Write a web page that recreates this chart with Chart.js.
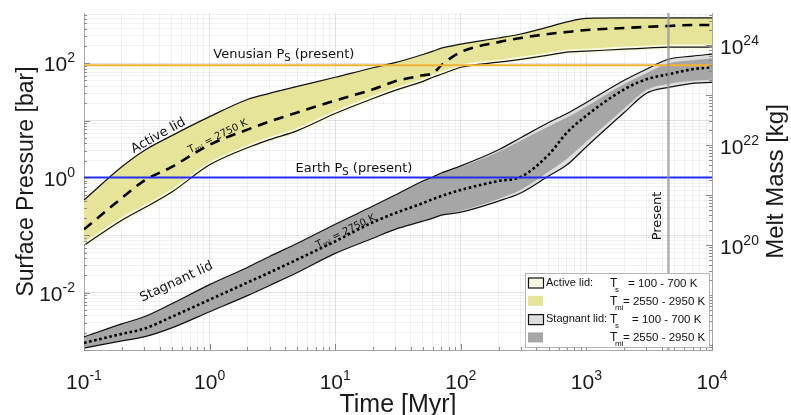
<!DOCTYPE html>
<html>
<head>
<meta charset="utf-8">
<script src="https://cdn.jsdelivr.net/npm/chart.js@4/dist/chart.umd.min.js"></script>
<style>
  html, body { margin: 0; padding: 0; background: #fff; }
</style>
</head>
<body>
<canvas id="chart" width="791" height="415"></canvas>
<script>
// time axis (Myr)
const times = [0.1, 0.2, 0.3, 0.5, 1, 2, 3, 5, 10, 20, 30, 50, 60, 70, 100, 200, 300, 500, 700, 1000, 2000, 3000, 4500, 7000, 10000];

// active lid surface pressure [bar]
const activeHigh = [0.411, 1.56, 2.98, 5.46, 11.7, 23.3, 29.8, 39.4, 56.8, 83.4, 102, 142, 162, 183, 215, 275, 323, 429, 524, 604, 615, 615, 615, 615, 615];
const activeLow = [0.0668, 0.183, 0.298, 0.568, 1.69, 3.36, 4.64, 6.68, 13.3, 24.3, 33.6, 48.3, 56.8, 64.1, 85.1, 104, 117, 138, 156, 162, 176, 183, 191, 191, 191];
const activeMid = [0.127, 0.446, 0.886, 1.56, 3.79, 6.95, 9.6, 13.8, 22.4, 35.0, 48.3, 61.6, 66.8, 92.2, 156, 233, 275, 323, 350, 379, 411, 429, 446, 464, 464];

// stagnant lid surface pressure [bar]
const stagHigh = [1.69e-3, 2.86e-3, 3.79e-3, 6.41e-3, 0.0138, 0.0275, 0.0428, 0.0724, 0.156, 0.323, 0.503, 0.886, 1.04, 1.22, 1.62, 3.10, 5.03, 9.23, 13.3, 20.7, 50.4, 78.5, 117, 133, 144];
const stagLow = [1.08e-3, 1.44e-3, 1.69e-3, 2.43e-3, 4.65e-3, 8.86e-3, 0.0133, 0.0224, 0.0483, 0.0886, 0.127, 0.176, 0.199, 0.224, 0.253, 0.395, 0.546, 1.08, 1.69, 3.50, 13.8, 29.8, 37.9, 44.6, 46.4];
const stagTmiHigh = [1.69e-3, 2.86e-3, 3.79e-3, 6.41e-3, 0.0138, 0.0275, 0.0428, 0.0724, 0.156, 0.323, 0.503, 0.886, 1.04, 1.22, 1.55, 2.85, 4.45, 7.9, 11.3, 17.6, 43.5, 67.0, 100, 113, 122];
const stagTmiLow = [1.08e-3, 1.44e-3, 1.69e-3, 2.43e-3, 4.65e-3, 8.86e-3, 0.0133, 0.0224, 0.0483, 0.0886, 0.127, 0.176, 0.199, 0.224, 0.268, 0.43, 0.62, 1.28, 2.15, 4.3, 16.2, 34.0, 43.5, 49.5, 51.5];
const stagMid = [1.33e-3, 1.91e-3, 2.34e-3, 3.79e-3, 7.54e-3, 0.0150, 0.0224, 0.0379, 0.0785, 0.169, 0.243, 0.364, 0.428, 0.483, 0.616, 0.886, 1.04, 2.53, 6.16, 12.2, 35.0, 52.4, 64.1, 78.5, 85.1];

// reference values
const venusPs = 92;
const earthPs = 1.013;
const presentTime = 4500;

// axis ranges and labelled exponents
const xRange = [0.1, 1e4];
const yRange = [1e-3, 750];
const y2Range = [7.9e17, 4.37e24];
const xTickExps = [-1, 0, 1, 2, 3, 4];
const yTickExps = [-2, 0, 2];
const y2TickExps = [20, 22, 24];

const SANS = "'Liberation Sans', Arial, sans-serif";
const VERD = "'DejaVu Sans', Verdana, sans-serif";
const YELLOW = 'rgb(230,228,152)';
const LIGHT_YELLOW = 'rgb(250,249,226)';
const DARK_GREY = 'rgb(166,166,166)';
const LIGHT_GREY = 'rgb(222,222,222)';

const pts = arr => times.map((t, i) => ({ x: t, y: arr[i] }));

const isMajor = v => Math.abs(Math.log10(v) - Math.round(Math.log10(v))) < 1e-6;

function logTicks(lo, hi) {
    const out = [];
    for (let e = Math.floor(Math.log10(lo)); e <= Math.ceil(Math.log10(hi)); e++) {
        for (let m = 1; m < 10; m++) {
            const v = m * Math.pow(10, e);
            if (v >= lo * 0.999 && v <= hi * 1.001) out.push(v);
        }
    }
    return out;
}

function richText(ctx, parts, x, y, align, family) {
    const widths = parts.map(([txt, size]) => {
        ctx.font = size + 'px ' + family;
        return ctx.measureText(txt).width;
    });
    const total = widths.reduce((a, b) => a + b, 0);
    let cx = align === 'center' ? x - total / 2 : align === 'right' ? x - total : x;
    ctx.textAlign = 'left';
    ctx.textBaseline = 'alphabetic';
    parts.forEach(([txt, size, dy], i) => {
        ctx.font = size + 'px ' + family;
        ctx.fillText(txt, cx, y + (dy || 0));
        cx += widths[i];
    });
}

function rotatedText(ctx, parts, x, y, angleDeg, family) {
    ctx.save();
    ctx.translate(x, y);
    ctx.rotate(angleDeg * Math.PI / 180);
    richText(ctx, parts, 0, 0, 'center', family);
    ctx.restore();
}

const pow10 = e => [['10', 21], [String(e), 14, -9]];

const overlay = {
    id: 'overlay',
    afterDraw(chart) {
        const { ctx, chartArea: a } = chart;
        const { x, y, y2 } = chart.scales;
        ctx.save();

        // inward tick marks
        ctx.strokeStyle = '#8a8a8a';
        ctx.lineWidth = 1;
        ctx.beginPath();
        logTicks(yRange[0], yRange[1]).forEach(v => {
            const py = Math.round(y.getPixelForValue(v)) + 0.5;
            const len = isMajor(v) ? 6 : 3;
            ctx.moveTo(a.left, py); ctx.lineTo(a.left + len, py);
        });
        logTicks(y2Range[0], y2Range[1]).forEach(v => {
            const py = Math.round(y2.getPixelForValue(v)) + 0.5;
            const len = isMajor(v) ? 6 : 3;
            ctx.moveTo(a.right, py); ctx.lineTo(a.right - len, py);
        });
        logTicks(xRange[0], xRange[1]).forEach(v => {
            const px = Math.round(x.getPixelForValue(v)) + 0.5;
            const len = isMajor(v) ? 6 : 3;
            ctx.moveTo(px, a.bottom); ctx.lineTo(px, a.bottom - len);
        });
        ctx.stroke();

        // tick labels
        ctx.fillStyle = '#1a1a1a';
        xTickExps.forEach(e => richText(ctx, pow10(e), x.getPixelForValue(Math.pow(10, e)), a.bottom + 39, 'center', SANS));
        yTickExps.forEach(e => richText(ctx, pow10(e), a.left - 9, y.getPixelForValue(Math.pow(10, e)) + 8, 'right', SANS));
        y2TickExps.forEach(e => richText(ctx, pow10(e), a.right + 8, y2.getPixelForValue(Math.pow(10, e)) + 9, 'left', SANS));

        // axis titles
        richText(ctx, [['Time [Myr]', 25]], (a.left + a.right) / 2, a.bottom + 62, 'center', SANS);
        ctx.save();
        ctx.translate(33, (a.top + a.bottom) / 2);
        ctx.rotate(-Math.PI / 2);
        richText(ctx, [['Surface Pressure [bar]', 23]], 0, 0, 'center', SANS);
        ctx.restore();
        ctx.save();
        ctx.translate(783, (a.top + a.bottom) / 2);
        ctx.rotate(-Math.PI / 2);
        richText(ctx, [['Melt Mass [kg]', 24]], 0, 0, 'center', SANS);
        ctx.restore();

        // annotations
        ctx.fillStyle = '#111';
        richText(ctx, [['Venusian P', 13], ['S', 10, 3], [' (present)', 13]],
            x.getPixelForValue(3.9), y.getPixelForValue(venusPs) - 7, 'center', VERD);
        richText(ctx, [['Earth P', 13], ['S', 10, 3], [' (present)', 13]],
            x.getPixelForValue(14.1), y.getPixelForValue(earthPs) - 6, 'center', VERD);
        rotatedText(ctx, [['Active lid', 13]], x.getPixelForValue(0.403), y.getPixelForValue(4.64) - 1, -29, VERD);
        rotatedText(ctx, [['T', 10], ['mi', 7, 2], [' = 2750 K', 10]], x.getPixelForValue(1.19), y.getPixelForValue(5.2) + 2, -26, VERD);
        rotatedText(ctx, [['Stagnant lid', 13]], x.getPixelForValue(0.56), y.getPixelForValue(0.0166) + 5, -25, VERD);
        rotatedText(ctx, [['T', 10], ['mi', 7, 2], [' = 2750 K', 10]], x.getPixelForValue(12.4), y.getPixelForValue(0.124) + 4, -26, VERD);
        ctx.save();
        ctx.translate(x.getPixelForValue(presentTime) - 7, y.getPixelForValue(0.217));
        ctx.rotate(-Math.PI / 2);
        richText(ctx, [['Present', 13]], 0, 0, 'center', VERD);
        ctx.restore();

        // legend
        const lw = 184, lh = 74;
        const lx = a.right - lw - 3, ly = a.bottom - lh - 3;
        ctx.fillStyle = '#fff';
        ctx.fillRect(lx, ly, lw, lh);
        ctx.strokeStyle = '#b5b5b5';
        ctx.lineWidth = 1;
        ctx.strokeRect(lx + 0.5, ly + 0.5, lw, lh);
        const rows = [
            { fill: LIGHT_YELLOW, border: true, name: 'Active lid:', sub: 's', val: '= 100 - 700 K', vx: 103 },
            { fill: YELLOW, border: false, name: '', sub: 'mi', val: '= 2550 - 2950 K', vx: 98 },
            { fill: LIGHT_GREY, border: true, name: 'Stagnant lid:', sub: 's', val: '= 100 - 700 K', vx: 107 },
            { fill: DARK_GREY, border: false, name: '', sub: 'mi', val: '= 2550 - 2950 K', vx: 98 }
        ];
        rows.forEach((r, i) => {
            const cy = ly + 9.5 + i * 18.3;
            ctx.fillStyle = r.fill;
            ctx.fillRect(lx + 3, cy - 5, 15, 10);
            if (r.border) {
                ctx.strokeStyle = '#111';
                ctx.lineWidth = 1.2;
                ctx.strokeRect(lx + 3.5, cy - 4.5, 15, 10);
            }
            ctx.fillStyle = '#111';
            if (r.name) richText(ctx, [[r.name, 11]], lx + 21, cy + 3, 'left', SANS);
            richText(ctx, [['T', 12]], lx + 85, cy + 4, 'left', SANS);
            richText(ctx, [[r.sub, 8]], lx + 90, cy + 9, 'left', SANS);
            richText(ctx, [[r.val, 11.5]], lx + r.vx, cy + 4, 'left', SANS);
        });

        ctx.restore();
    }
};

const edge = { borderColor: '#111', borderWidth: 1.2, fill: false };

new Chart(document.getElementById('chart'), {
    type: 'line',
    data: {
        datasets: [
            { // 0 present
                data: [{ x: presentTime, y: yRange[0] }, { x: presentTime, y: yRange[1] }],
                borderColor: 'rgba(150,150,150,0.75)', borderWidth: 2.5, order: 1
            },
            { // 1 venus
                data: [{ x: xRange[0], y: venusPs }, { x: xRange[1], y: venusPs }],
                borderColor: 'rgb(242,178,52)', borderWidth: 2, order: 2
            },
            { // 2 earth
                data: [{ x: xRange[0], y: earthPs }, { x: xRange[1], y: earthPs }],
                borderColor: 'rgb(35,45,245)', borderWidth: 2, order: 2
            },
            { // 3 active mid
                data: pts(activeMid), borderColor: '#000', borderWidth: 2.6,
                borderDash: [10, 7], order: 3, cubicInterpolationMode: 'monotone'
            },
            { // 4 stagnant mid
                data: pts(stagMid), borderColor: '#000', borderWidth: 2.6,
                borderDash: [2.6, 2.6], order: 3, cubicInterpolationMode: 'monotone'
            },
            { // 5 active low edge
                data: pts(activeLow), ...edge, order: 4, cubicInterpolationMode: 'monotone'
            },
            { // 6 active low light strip
                data: pts(activeLow), borderColor: LIGHT_YELLOW, borderWidth: 5, fill: false,
                order: 5, cubicInterpolationMode: 'monotone'
            },
            { // 7 active high edge + Tmi fill
                data: pts(activeHigh), ...edge, fill: 5, backgroundColor: YELLOW,
                order: 6, cubicInterpolationMode: 'monotone'
            },
            { // 8 stagnant low edge
                data: pts(stagLow), ...edge, order: 4, cubicInterpolationMode: 'monotone'
            },
            { // 9 stagnant Tmi high
                data: pts(stagTmiHigh), borderColor: 'transparent', fill: 10,
                backgroundColor: DARK_GREY, order: 7, cubicInterpolationMode: 'monotone'
            },
            { // 10 stagnant Tmi low
                data: pts(stagTmiLow), borderColor: 'transparent', fill: false,
                order: 7, cubicInterpolationMode: 'monotone'
            },
            { // 11 stagnant Ts fill
                data: pts(stagHigh), borderColor: 'transparent', fill: 8,
                backgroundColor: LIGHT_GREY, order: 8, cubicInterpolationMode: 'monotone'
            },
            { // 12 stagnant high edge
                data: pts(stagHigh), ...edge, order: 4, cubicInterpolationMode: 'monotone'
            }
        ]
    },
    options: {
        responsive: false,
        animation: false,
        layout: { padding: { left: 84, right: 79, top: 13, bottom: 65 } },
        elements: { point: { radius: 0 }, line: { tension: 0 } },
        plugins: { legend: { display: false }, tooltip: { enabled: false } },
        scales: {
            x: {
                type: 'logarithmic', min: xRange[0], max: xRange[1],
                ticks: { display: false },
                afterBuildTicks: s => { s.ticks = logTicks(xRange[0], xRange[1]).map(v => ({ value: v })); },
                grid: { drawTicks: false, color: c => isMajor(c.tick.value) ? 'rgba(0,0,0,0.11)' : 'rgba(0,0,0,0.05)' },
                border: { display: true, color: '#a8a8a8' }
            },
            y: {
                type: 'logarithmic', min: yRange[0], max: yRange[1],
                ticks: { display: false },
                afterBuildTicks: s => { s.ticks = logTicks(yRange[0], yRange[1]).map(v => ({ value: v })); },
                grid: { drawTicks: false, color: c => isMajor(c.tick.value) ? 'rgba(0,0,0,0.11)' : 'rgba(0,0,0,0.05)' },
                border: { display: true, color: '#a8a8a8' }
            },
            y2: {
                type: 'logarithmic', position: 'right', min: y2Range[0], max: y2Range[1],
                ticks: { display: false },
                grid: { display: false, drawTicks: false },
                border: { display: true, color: '#a8a8a8' }
            }
        }
    },
    plugins: [overlay]
});
</script>
</body>
</html>
